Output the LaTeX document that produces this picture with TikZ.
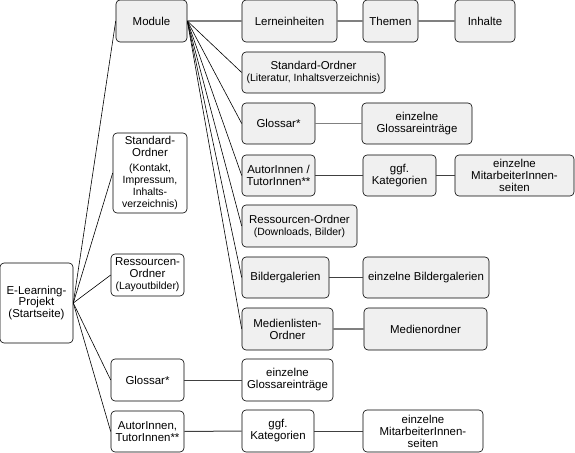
\documentclass[tikz,border=0pt]{standalone}
\usepackage{fontspec}
\setmainfont{Liberation Sans}
\usetikzlibrary{positioning}
\definecolor{boxgray}{HTML}{F0F0F0}
\newcommand{\parentxt}[1]{{\fontsize{10.5}{12}\selectfont #1}}

\begin{document}
\begin{tikzpicture}[
    x=1bp, y=-1bp,
    box/.style={rectangle, draw=black, fill=boxgray, rounded corners=4bp, inner sep=1bp, align=center, line width=0.6bp, font=\fontsize{11.5}{12}\selectfont},
    wbox/.style={box, fill=white},
    boxsize/.style 2 args={minimum width=#1bp, minimum height=#2bp},
    fan/.style={draw=black, line width=0.6bp},
    link/.style={draw=black!75, line width=1bp},
    glink/.style={draw=black!50, line width=1.5bp}
]
\useasboundingbox (0,0) rectangle (575,453);

% Startseite und erste Ebene
\node[wbox, boxsize={73}{80}] (root) at (36.5,303) {E-Learning-\\Projekt\\(Startseite)};
\node[box, boxsize={71}{42}] (module) at (151.5,21) {Module};
\node[wbox, boxsize={74}{80}] (stdl) at (150,173) {Standard-\\Ordner\\[3bp]\parentxt{(Kontakt,}\\\parentxt{Impressum,}\\\parentxt{Inhalts-}\\\parentxt{verzeichnis)}};
\node[wbox, boxsize={73}{42}] (resl) at (147.5,275) {Ressourcen-\\Ordner\\\parentxt{(Layoutbilder)}};
\node[wbox, boxsize={73}{42}] (glosl) at (147.5,380) {Glossar*};
\node[wbox, boxsize={73}{41}] (autl) at (147.5,431.5) {AutorInnen,\\TutorInnen**};

\foreach \n in {module,stdl,resl,glosl,autl}
    \draw[fan] (root.east) -- (\n.west);

% Module
\node[box, boxsize={95}{42}] (lern) at (289.5,21) {Lerneinheiten};
\node[box, boxsize={55}{42}] (themen) at (390.5,21) {Themen};
\node[box, boxsize={60}{42}] (inhalte) at (485,21) {Inhalte};
\node[box, boxsize={143}{41}] (stdm) at (313.5,72.5) {Standard-Ordner\\\parentxt{(Literatur, Inhaltsverzeichnis)}};
\node[box, boxsize={73}{41}] (glosm) at (278.5,123.5) {Glossar*};
\node[box, boxsize={110}{41}] (glose) at (417,123.5) {einzelne\\Glossareinträge};
\node[box, boxsize={73}{41}] (autm) at (278.5,175.5) {AutorInnen /\\TutorInnen**};
\node[box, boxsize={73}{41}] (katm) at (399.5,175.5) {ggf.\\Kategorien};
\node[box, boxsize={119}{41}] (mitm) at (514.5,175.5) {einzelne\\MitarbeiterInnen-\\seiten};
\node[box, boxsize={115}{42}] (resm) at (299.5,226) {Ressourcen-Ordner\\\parentxt{(Downloads, Bilder)}};
\node[box, boxsize={87}{41}] (bild) at (285.5,277.5) {Bildergalerien};
\node[box, boxsize={126}{41}] (bilde) at (426,277.5) {einzelne Bildergalerien};
\node[box, boxsize={91}{42}] (med) at (287.5,329) {Medienlisten-\\Ordner};
\node[box, boxsize={123}{42}] (medo) at (425.5,329) {Medienordner};

\draw[glink] (module.east) -- (lern.west);
\foreach \n in {stdm,glosm,autm,resm,bild,med}
    \draw[fan] (module.east) -- (\n.west);

\draw[glink] (lern) -- (themen);
\draw[glink] (themen) -- (inhalte);
\draw[glink] (glosm) -- (glose);
\draw[link] (autm) -- (katm);
\draw[link] (katm) -- (mitm);
\draw[link] (bild) -- (bilde);
\draw[glink] (med) -- (medo);

% Glossar und AutorInnen
\node[wbox, boxsize={91}{42}] (glose2) at (287.5,380) {einzelne\\Glossareinträge};
\node[wbox, boxsize={72}{42}] (kat2) at (278,431) {ggf.\\Kategorien};
\node[wbox, boxsize={120}{42}] (mit2) at (423,431) {einzelne\\MitarbeiterInnen-\\seiten};

\draw[link] (glosl) -- (glose2);
\draw[link] (autl.east) -- (kat2.west);
\draw[link] (kat2) -- (mit2);

\end{tikzpicture}
\end{document}
